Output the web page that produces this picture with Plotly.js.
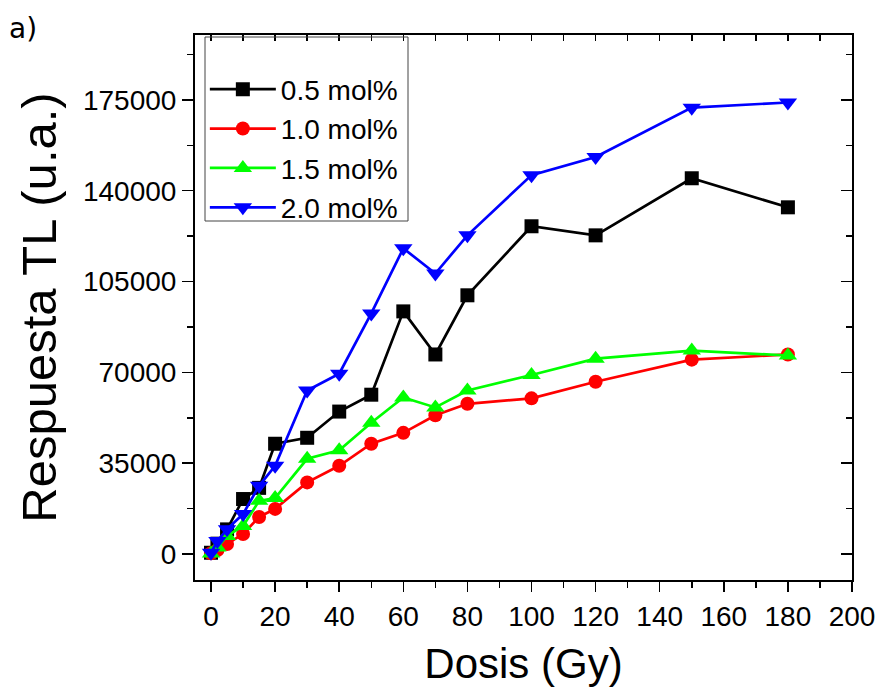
<!DOCTYPE html>
<html>
<head>
<meta charset="utf-8">
<script src="https://cdn.plot.ly/plotly-3.0.1.min.js"></script>
<style>html,body{margin:0;padding:0;background:#fff;}#chart{width:881px;height:695px;}</style>
</head>
<body>
<div id="chart"></div>
<script>
const dose = [0, 2, 5, 10, 15, 20, 30, 40, 50, 60, 70, 80, 100, 120, 150, 180];
const seriesNames = ["0.5 mol%", "1.0 mol%", "1.5 mol%", "2.0 mol%"];
const tl05 = [500, 4000, 9500, 21200, 25500, 42500, 44800, 54900, 61400, 93500, 76900, 99700, 126300, 122800, 144800, 133600];
const tl10 = [300, 1500, 3900, 7700, 14300, 17400, 27600, 34000, 42500, 46700, 53500, 57900, 60000, 66400, 74900, 76900];
const tl15 = [200, 2500, 7000, 10800, 20500, 21600, 36700, 40000, 50600, 60300, 56500, 63000, 69000, 75300, 78400, 76500];
const tl20 = [500, 5000, 9600, 15400, 26300, 34000, 63000, 69500, 92700, 117800, 108100, 122800, 146000, 153000, 172000, 174000];
const yTicks = [0, 35000, 70000, 105000, 140000, 175000];
const xTicks = [0, 20, 40, 60, 80, 100, 120, 140, 160, 180, 200];

const colors = ["#000000", "#ff0000", "#00ff00", "#0000ff"];
const symbols = ["square", "circle", "triangle-up", "triangle-down"];
const sizes = [14, 14, 16, 16];
const data = [tl05, tl10, tl15, tl20].map((ys, i) => ({
  x: dose, y: ys, name: seriesNames[i], type: "scatter", mode: "lines+markers",
  line: {color: colors[i], width: 2.7},
  marker: {color: colors[i], symbol: symbols[i], size: sizes[i]}
}));

const xr = [-5, 200], yr = [-10000, 200000];
const font = "Arial";
const layout = {
  width: 881, height: 695,
  margin: {l: 195, r: 29, t: 35, b: 115},
  paper_bgcolor: "#fff", plot_bgcolor: "#fff",
  font: {family: font, color: "#000"},
  showlegend: true,
  legend: {
    x: 0.015, y: 0.946, xanchor: "left", yanchor: "top",
    bgcolor: "rgba(0,0,0,0)", borderwidth: 0,
    font: {family: font, size: 28, color: "#000"},
    itemwidth: 66, tracegroupgap: 0
  },
  xaxis: {
    range: xr, tickvals: xTicks, ticktext: xTicks.map(String),
    ticks: "outside", ticklen: 10, tickwidth: 1.5, tickcolor: "#000",
    minor: {dtick: 10, tick0: 0, ticks: "outside", ticklen: 6, tickwidth: 1.5, tickcolor: "#000"},
    showline: true, linewidth: 2, linecolor: "#000", showgrid: false, zeroline: false,
    tickfont: {family: font, size: 28},
    title: {text: "Dosis (Gy)", font: {family: font, size: 42}, standoff: 18}
  },
  yaxis: {
    range: yr, tickvals: yTicks, ticktext: yTicks.map(String),
    ticks: "outside", ticklen: 11, tickwidth: 1.5, tickcolor: "#000",
    minor: {dtick: 17500, tick0: 0, ticks: "outside", ticklen: 6, tickwidth: 1.5, tickcolor: "#000"},
    showline: true, linewidth: 2, linecolor: "#000", showgrid: false, zeroline: false,
    tickfont: {family: font, size: 28},
    title: {text: "Respuesta TL (u.a.)", font: {family: font, size: 49}, standoff: 11}
  },
  xaxis2: {
    overlaying: "x", side: "top", anchor: "y", range: xr, dtick: 10, tick0: 0,
    ticks: "inside", ticklen: 6, tickwidth: 1.5, tickcolor: "#000",
    showticklabels: false, showline: true, linewidth: 2, linecolor: "#000",
    showgrid: false, zeroline: false
  },
  yaxis2: {
    overlaying: "y", side: "right", anchor: "x", range: yr, tickvals: yTicks,
    ticks: "inside", ticklen: 11, tickwidth: 1.5, tickcolor: "#000",
    minor: {dtick: 17500, tick0: 0, ticks: "inside", ticklen: 6, tickwidth: 1.5, tickcolor: "#000"},
    showticklabels: false, showline: true, linewidth: 2, linecolor: "#000",
    showgrid: false, zeroline: false
  },
  shapes: [{
    type: "rect", xref: "paper", yref: "paper",
    x0: 10 / 657, x1: 213 / 657, y0: (580 - 221) / 545, y1: (580 - 37) / 545,
    line: {color: "#444", width: 1}, fillcolor: "rgba(0,0,0,0)", layer: "above"
  }],
  annotations: [{
    text: "a)", xref: "paper", yref: "paper", x: -195 / 657 + 7 / 657, y: (580 - 10) / 545,
    xanchor: "left", yanchor: "top", showarrow: false,
    font: {family: "DejaVu Sans, sans-serif", size: 28, color: "#000"}
  }]
};
data.push({x: [], y: [], xaxis: "x2", yaxis: "y2", showlegend: false, hoverinfo: "skip"});
Plotly.newPlot("chart", data, layout, {displayModeBar: false, staticPlot: true});
</script>
</body>
</html>
